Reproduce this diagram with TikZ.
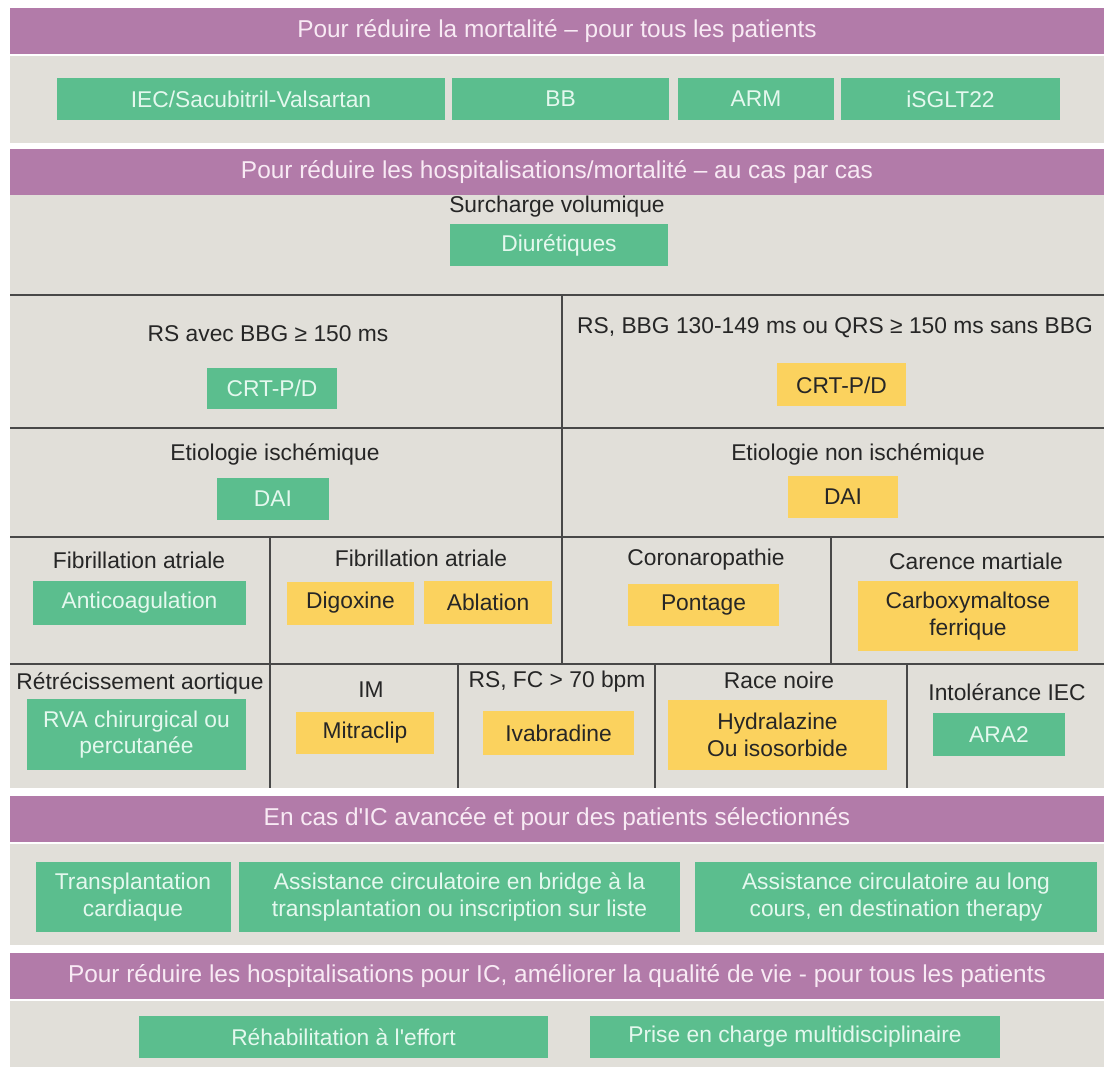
\documentclass[tikz,border=0pt]{standalone}
\usepackage{fontspec}
\newfontfamily\arialsans{Liberation Sans}
\usepackage{tikz}
\usetikzlibrary{positioning}
\definecolor{bandviolet}{HTML}{B27BA9}
\definecolor{bandtext}{HTML}{F8EAF4}
\definecolor{fondgris}{HTML}{E1DFD9}
\definecolor{vertbox}{HTML}{5BBE8E}
\definecolor{verttext}{HTML}{E4F8EE}
\definecolor{jaunebox}{HTML}{FBD25E}
\definecolor{textmain}{HTML}{262626}
\definecolor{gristrait}{HTML}{484848}
\tikzstyle{bandeau} = [rectangle, fill=bandviolet, text=bandtext, minimum width=1094, minimum height=46, inner sep=0, outer sep=0, font=\arialsans\fontsize{24.4}{29}\selectfont]
\tikzstyle{fond} = [rectangle, fill=fondgris, minimum width=1094, inner sep=0, outer sep=0]
\tikzstyle{vert} = [rectangle, fill=vertbox, text=verttext, inner sep=0, outer sep=0, align=center, font=\arialsans\fontsize{22.8}{26.5}\selectfont]
\tikzstyle{jaune} = [rectangle, fill=jaunebox, text=textmain, inner sep=0, outer sep=0, align=center, font=\arialsans\fontsize{22.8}{26.5}\selectfont]
\tikzstyle{critere} = [text=textmain, inner sep=0, align=center, font=\arialsans\fontsize{22.8}{26.5}\selectfont]
\tikzstyle{ligne} = [draw=gristrait, line width=2]

\begin{document}
\begin{tikzpicture}[x=1pt, y=-1pt]
    \useasboundingbox[fill=white] (0,0) rectangle (1104,1067);

    % mortalite
    \node[bandeau] (barre1) at (557,31) {Pour réduire la mortalité – pour tous les patients};
    \node[fond, minimum height=87] (fond1) at (557,99.5) {};
    \node[vert, minimum width=388, minimum height=42] (iec) at (251,99) {IEC/Sacubitril-Valsartan};
    \node[vert, minimum width=217, minimum height=42, right=7 of iec] (bb) {BB};
    \node[vert, minimum width=156, minimum height=42, right=9 of bb] (arm) {ARM};
    \node[vert, minimum width=219, minimum height=42, right=7 of arm] (isglt) {iSGLT22};

    % au cas par cas
    \node[bandeau] (barre2) at (557,172) {Pour réduire les hospitalisations/mortalité – au cas par cas};
    \node[fond, minimum height=593] (fond2) at (557,491.5) {};
    \node[critere] (surcharge) at (557,207) {Surcharge volumique};
    \node[vert, minimum width=218, minimum height=42] (diuretiques) at (559,245) {Diurétiques};

    \draw[ligne] (10,295) -- (1104,295);
    \draw[ligne] (10,428) -- (1104,428);
    \draw[ligne] (10,537) -- (1104,537);
    \draw[ligne] (10,664) -- (1104,664);
    \draw[ligne] (562,295) -- (562,664);
    \draw[ligne] (270,537) -- (270,788);
    \draw[ligne] (831,537) -- (831,664);
    \draw[ligne] (458,664) -- (458,788);
    \draw[ligne] (655,664) -- (655,788);
    \draw[ligne] (907,664) -- (907,788);

    \node[critere] (bbgA) at (268,334) {RS avec BBG ≥ 150 ms};
    \node[vert, minimum width=130, minimum height=41] (crtA) at (272,388.5) {CRT-P/D};
    \node[critere] (bbgB) at (835,328) {RS, BBG 130-149 ms ou QRS ≥ 150 ms sans BBG};
    \node[jaune, minimum width=129, minimum height=43] (crtB) at (841.5,385) {CRT-P/D};

    \node[critere] (etioA) at (275,454) {Etiologie ischémique};
    \node[vert, minimum width=112, minimum height=42] (daiA) at (273,499) {DAI};
    \node[critere] (etioB) at (858,454) {Etiologie non ischémique};
    \node[jaune, minimum width=110, minimum height=42] (daiB) at (843,497) {DAI};

    \node[critere] (fibA) at (139,560) {Fibrillation atriale};
    \node[vert, minimum width=213, minimum height=44] (anticoag) at (139.5,603) {Anticoagulation};
    \node[critere] (fibB) at (421,558) {Fibrillation atriale};
    \node[jaune, minimum width=127, minimum height=43] (digoxine) at (350.5,603) {Digoxine};
    \node[jaune, minimum width=128, minimum height=43] (ablation) at (488,602) {Ablation};
    \node[critere] (coro) at (706,560) {Coronaropathie};
    \node[jaune, minimum width=151, minimum height=42] (pontage) at (703.5,605) {Pontage};
    \node[critere] (carence) at (976,561) {Carence martiale};
    \node[jaune, minimum width=220, minimum height=70] (carboxy) at (968,616) {Carboxymaltose\\ferrique};

    \node[critere] (retrec) at (140,683) {Rétrécissement aortique};
    \node[vert, minimum width=219, minimum height=71] (rva) at (136.5,734.5) {RVA chirurgical ou\\percutanée};
    \node[critere] (im) at (371,690) {IM};
    \node[jaune, minimum width=138, minimum height=42] (mitraclip) at (365,733) {Mitraclip};
    \node[critere] (rsfc) at (557,682) {RS, FC > 70 bpm};
    \node[jaune, minimum width=151, minimum height=44] (ivabradine) at (558.5,733) {Ivabradine};
    \node[critere] (race) at (779,680) {Race noire};
    \node[jaune, minimum width=219, minimum height=70] (hydralazine) at (777.5,735) {Hydralazine\\Ou isosorbide};
    \node[critere] (intol) at (1007,692) {Intolérance IEC};
    \node[vert, minimum width=132, minimum height=43] (ara2) at (999,734.5) {ARA2};

    % IC avancee
    \node[bandeau] (barre3) at (557,819) {En cas d'IC avancée et pour des patients sélectionnés};
    \node[fond, minimum height=101] (fond3) at (557,894.5) {};
    \node[vert, minimum width=195, minimum height=70] (transplant) at (133,897) {Transplantation\\cardiaque};
    \node[vert, minimum width=441, minimum height=70] (bridge) at (459.5,897) {Assistance circulatoire en bridge à la\\transplantation ou inscription sur liste};
    \node[vert, minimum width=402, minimum height=70] (longcours) at (896,897) {Assistance circulatoire au long\\cours, en destination therapy};

    % qualite de vie
    \node[bandeau] (barre4) at (557,976) {Pour réduire les hospitalisations pour IC, améliorer la qualité de vie - pour tous les patients};
    \node[fond, minimum height=66] (fond4) at (557,1034) {};
    \node[vert, minimum width=409, minimum height=42] (rehab) at (343.5,1037) {Réhabilitation à l'effort};
    \node[vert, minimum width=410, minimum height=42] (prise) at (795,1037) {Prise en charge multidisciplinaire};
\end{tikzpicture}
\end{document}
